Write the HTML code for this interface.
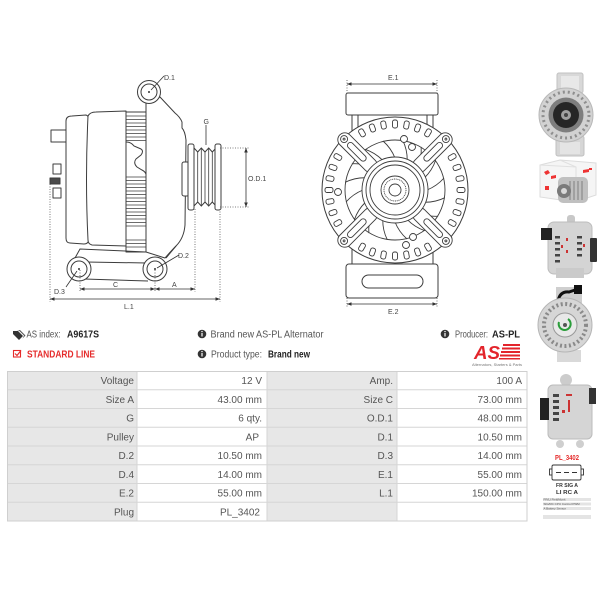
<!DOCTYPE html>
<html><head><meta charset="utf-8"><style>
html,body{margin:0;padding:0;background:#fff;}
svg{display:block;}
</style></head><body>
<svg width="600" height="600" viewBox="0 0 600 600" xmlns="http://www.w3.org/2000/svg" font-family="'Liberation Sans', Arial, sans-serif">
<defs>
<marker id="ar" viewBox="0 0 6 6" refX="6" refY="3" markerWidth="4.5" markerHeight="4.5" markerUnits="userSpaceOnUse" orient="auto-start-reverse"><path d="M0,0.6 L6,3 L0,5.4 Z" fill="#333"/></marker>
</defs>
<rect width="600" height="600" fill="#fff"/>

<!-- ============ LEFT DRAWING ============ -->
<g fill="#fff" stroke="#3c3c3c" stroke-width="1" stroke-linejoin="round">
  <!-- terminals -->
  <rect x="51" y="130" width="15" height="12"/>
  <rect x="53" y="164" width="8" height="10"/>
  <rect x="50" y="178" width="10" height="6" fill="#4a4a4a"/>
  <rect x="53" y="188" width="8" height="10"/>
  <!-- rear cap -->
  <path d="M66,121 Q66,116 72,116 L86,115 Q89,116 89,120 L89,240 Q88,244 84,244 L70,243 Q66,243 66,238 Z"/>
  <!-- middle body -->
  <path d="M88,116 Q90,112 96,112 L126,111 L126,246 L92,245 Q88,244 88,240 Q85,180 88,116 Z"/>
  <!-- front housing -->
  <path d="M146,103 L146,252 L165,258 Q172,250 176,246 Q184,238 185,225 L186,140 Q185,131 182,128 L182,122 Q180,117 175,113 L160,97 Z"/>
  <!-- fin stack -->
  <rect x="126" y="112" width="20" height="140"/>
</g>
<g stroke="#3c3c3c" stroke-width="0.8" fill="none">
  <path d="M126,116H146M126,119.5H146M126,123H146M126,126.5H146M126,130H146M126,133.5H146M126,137H146M126,140.5H146"/>
  <path d="M126,177H146M126,180.5H146M126,184H146M126,187.5H146M126,191H146M126,194.5H146M126,198H146M126,201.5H146M126,205H146M126,208.5H146M126,212H146M126,215.5H146M126,219H146M126,222.5H146M126,226H146"/>
  <path d="M126,240H146M126,243.5H146M126,247H146"/>
</g>
<rect x="126.6" y="142" width="18.8" height="33" fill="#fff"/>
<path d="M126,142 Q131,142 134,146 L141,149 Q144,151 141,155 L136,159 Q133,163 137,167 L142,170 Q146,172 146,175" fill="none" stroke="#3c3c3c" stroke-width="1"/>
<path d="M126,142 L126,175" stroke="#3c3c3c" stroke-width="1"/>

<!-- bracket -->
<g fill="none" stroke="#3c3c3c" stroke-width="1">
  <path d="M75,258 L80,249 L146,252"/>
  <path d="M86,262 L147,263"/>
  <path d="M84,279 L148,281"/>
  <path d="M176,246 L166,258"/>
  <path d="M146,103 L146,112"/>
</g>
<g fill="#fff" stroke="#3c3c3c" stroke-width="1">
  <circle cx="79" cy="269" r="12"/>
  <circle cx="79" cy="269" r="8"/>
  <circle cx="155" cy="269" r="12"/>
  <circle cx="155" cy="269" r="8"/>
  <circle cx="149" cy="92" r="11.5"/>
  <circle cx="149" cy="92" r="8"/>
</g>
<g fill="#333"><circle cx="79" cy="269" r="1"/><circle cx="155" cy="269" r="1"/><circle cx="149" cy="92" r="1"/></g>

<!-- pulley -->
<g fill="#fff" stroke="#3c3c3c" stroke-width="1">
  <rect x="182" y="162" width="7" height="34" rx="2"/>
  <rect x="188" y="144" width="6" height="66" rx="2"/>
  <path d="M194,148 L197.7,152 L201.3,148 L205,152 L208.7,148 L212.3,152 L216,148 L216,206 L212.3,202 L208.7,206 L205,202 L201.3,206 L197.7,202 L194,206 Z"/>
  <path d="M197.7,152V202M201.3,148V206M205,152V202M208.7,148V206M212.3,152V202" fill="none" stroke-width="0.8"/>
  <rect x="215" y="144" width="6" height="66" rx="2"/>
</g>

<!-- dims left -->
<g stroke="#555" stroke-width="0.8" stroke-dasharray="1 1.5" fill="none">
  <path d="M50,184V302M80,270V292M155,270V292M195,209V292M220,209V302M220,148H249M220,207H249"/>
</g>
<g stroke="#333" stroke-width="0.8" fill="none">
  <path d="M80,289H155" marker-start="url(#ar)" marker-end="url(#ar)"/>
  <path d="M155,289H195" marker-start="url(#ar)" marker-end="url(#ar)"/>
  <path d="M50,299H220" marker-start="url(#ar)" marker-end="url(#ar)"/>
  <path d="M246,148V207" marker-start="url(#ar)" marker-end="url(#ar)"/>
  <path d="M164,76L151,90"/>
  <path d="M206,125V145"/>
  <path d="M179,255L157,268"/>
  <path d="M66,287L77,271"/>
</g>
<g font-size="7" fill="#444">
  <text x="164" y="80">D.1</text>
  <text x="203.5" y="124">G</text>
  <text x="248" y="181">O.D.1</text>
  <text x="178" y="258">D.2</text>
  <text x="54" y="294">D.3</text>
  <text x="113" y="287">C</text>
  <text x="172" y="287">A</text>
  <text x="124" y="309">L.1</text>
</g>

<!-- ============ MIDDLE DRAWING ============ -->
<g fill="#fff" stroke="#3c3c3c" stroke-width="1">
  <rect x="352" y="108" width="81" height="30"/>
  <rect x="346" y="93" width="92" height="22" rx="2"/>
  <rect x="352" y="245" width="81" height="22"/>
  <rect x="346" y="264" width="92" height="34" rx="3"/>
  <rect x="362" y="275" width="61" height="13" rx="6.5"/>
  <path d="M358,115V128M427,115V128" fill="none"/>
  <circle cx="395" cy="190" r="73"/>
</g>
<g fill="#fff" stroke="#3c3c3c" stroke-width="0.9" transform="translate(395,190)">
  <g id="notch"><rect x="-2.5" y="-70" width="5" height="8" rx="2"/></g>
  <rect x="-2.5" y="-70" width="5" height="8" rx="2" transform="rotate(10)"/>
  <rect x="-2.5" y="-70" width="5" height="8" rx="2" transform="rotate(20)"/>
  <rect x="-2.5" y="-70" width="5" height="8" rx="2" transform="rotate(30)"/>
  <rect x="-2.5" y="-70" width="5" height="8" rx="2" transform="rotate(60)"/>
  <rect x="-2.5" y="-70" width="5" height="8" rx="2" transform="rotate(70)"/>
  <rect x="-2.5" y="-70" width="5" height="8" rx="2" transform="rotate(80)"/>
  <rect x="-2.5" y="-70" width="5" height="8" rx="2" transform="rotate(90)"/>
  <rect x="-2.5" y="-70" width="5" height="8" rx="2" transform="rotate(100)"/>
  <rect x="-2.5" y="-70" width="5" height="8" rx="2" transform="rotate(110)"/>
  <rect x="-2.5" y="-70" width="5" height="8" rx="2" transform="rotate(120)"/>
  <rect x="-2.5" y="-70" width="5" height="8" rx="2" transform="rotate(150)"/>
  <rect x="-2.5" y="-70" width="5" height="8" rx="2" transform="rotate(160)"/>
  <rect x="-2.5" y="-70" width="5" height="8" rx="2" transform="rotate(170)"/>
  <rect x="-2.5" y="-70" width="5" height="8" rx="2" transform="rotate(180)"/>
  <rect x="-2.5" y="-70" width="5" height="8" rx="2" transform="rotate(190)"/>
  <rect x="-2.5" y="-70" width="5" height="8" rx="2" transform="rotate(200)"/>
  <rect x="-2.5" y="-70" width="5" height="8" rx="2" transform="rotate(210)"/>
  <rect x="-2.5" y="-70" width="5" height="8" rx="2" transform="rotate(240)"/>
  <rect x="-2.5" y="-70" width="5" height="8" rx="2" transform="rotate(250)"/>
  <rect x="-2.5" y="-70" width="5" height="8" rx="2" transform="rotate(260)"/>
  <rect x="-2.5" y="-70" width="5" height="8" rx="2" transform="rotate(270)"/>
  <rect x="-2.5" y="-70" width="5" height="8" rx="2" transform="rotate(280)"/>
  <rect x="-2.5" y="-70" width="5" height="8" rx="2" transform="rotate(290)"/>
  <rect x="-2.5" y="-70" width="5" height="8" rx="2" transform="rotate(300)"/>
  <rect x="-2.5" y="-70" width="5" height="8" rx="2" transform="rotate(330)"/>
  <rect x="-2.5" y="-70" width="5" height="8" rx="2" transform="rotate(340)"/>
  <rect x="-2.5" y="-70" width="5" height="8" rx="2" transform="rotate(350)"/>
  <circle cx="0" cy="0" r="50"/>
  <g fill="none">
    <path d="M32,0 Q42,-4 49,-12"/>
    <path d="M32,0 Q42,-4 49,-12" transform="rotate(22.5)"/>
    <path d="M32,0 Q42,-4 49,-12" transform="rotate(45)"/>
    <path d="M32,0 Q42,-4 49,-12" transform="rotate(67.5)"/>
    <path d="M32,0 Q42,-4 49,-12" transform="rotate(90)"/>
    <path d="M32,0 Q42,-4 49,-12" transform="rotate(112.5)"/>
    <path d="M32,0 Q42,-4 49,-12" transform="rotate(135)"/>
    <path d="M32,0 Q42,-4 49,-12" transform="rotate(157.5)"/>
    <path d="M32,0 Q42,-4 49,-12" transform="rotate(180)"/>
    <path d="M32,0 Q42,-4 49,-12" transform="rotate(202.5)"/>
    <path d="M32,0 Q42,-4 49,-12" transform="rotate(225)"/>
    <path d="M32,0 Q42,-4 49,-12" transform="rotate(247.5)"/>
    <path d="M32,0 Q42,-4 49,-12" transform="rotate(270)"/>
    <path d="M32,0 Q42,-4 49,-12" transform="rotate(292.5)"/>
    <path d="M32,0 Q42,-4 49,-12" transform="rotate(315)"/>
    <path d="M32,0 Q42,-4 49,-12" transform="rotate(337.5)"/>
  </g>
  <g transform="rotate(45)"><rect x="28" y="-7" width="50" height="14" rx="7"/><rect x="42" y="-3" width="24" height="6" rx="3"/><circle cx="72" cy="0" r="3.5"/><circle cx="72" cy="0" r="1"/></g>
  <g transform="rotate(135)"><rect x="28" y="-7" width="50" height="14" rx="7"/><rect x="42" y="-3" width="24" height="6" rx="3"/><circle cx="72" cy="0" r="3.5"/><circle cx="72" cy="0" r="1"/></g>
  <g transform="rotate(225)"><rect x="28" y="-7" width="50" height="14" rx="7"/><rect x="42" y="-3" width="24" height="6" rx="3"/><circle cx="72" cy="0" r="3.5"/><circle cx="72" cy="0" r="1"/></g>
  <g transform="rotate(315)"><rect x="28" y="-7" width="50" height="14" rx="7"/><rect x="42" y="-3" width="24" height="6" rx="3"/><circle cx="72" cy="0" r="3.5"/><circle cx="72" cy="0" r="1"/></g>
  <circle cx="0" cy="0" r="33"/>
  <circle cx="0" cy="0" r="29"/>
  <circle cx="0" cy="0" r="25"/>
  <circle cx="0" cy="0" r="14"/>
  <circle cx="0" cy="0" r="11" stroke-dasharray="1 0.8"/>
  <circle cx="0" cy="0" r="6"/>
</g>
<g fill="#fff" stroke="#3c3c3c" stroke-width="0.9">
  <circle cx="404" cy="139" r="3.5"/><circle cx="412" cy="147" r="3.5"/>
  <circle cx="338" cy="192" r="3.5"/>
  <circle cx="406" cy="245" r="3.5"/><circle cx="413" cy="237" r="3.5"/>
</g>
<g stroke="#555" stroke-width="0.8" stroke-dasharray="1 1.5" fill="none">
  <path d="M347,80V93M437,80V93M347,298V308M437,298V308"/>
</g>
<g stroke="#333" stroke-width="0.8" fill="none">
  <path d="M347,84H437" marker-start="url(#ar)" marker-end="url(#ar)"/>
  <path d="M347,304H437" marker-start="url(#ar)" marker-end="url(#ar)"/>
</g>
<g font-size="7" fill="#444">
  <text x="388" y="80">E.1</text>
  <text x="388" y="314">E.2</text>
</g>

<!-- ============ INFO ROWS ============ -->
<g fill="#333">
  <polygon points="13,331 18,331 23,336 19,340 13,334"/>
  <polygon points="17,330 20,330 25.5,335.5 22.5,338.5 24,335.5 19,330.5" fill="#555"/>
  <circle cx="202" cy="334" r="4.3"/>
  <circle cx="202" cy="354" r="4.3"/>
  <circle cx="445" cy="334" r="4.3"/>
</g>
<g fill="#fff">
  <rect x="201.4" y="333" width="1.2" height="3.5"/><circle cx="202" cy="331.6" r="0.7"/>
  <rect x="201.4" y="353" width="1.2" height="3.5"/><circle cx="202" cy="351.6" r="0.7"/>
  <rect x="444.4" y="333" width="1.2" height="3.5"/><circle cx="445" cy="331.6" r="0.7"/>
</g>
<rect x="13.5" y="350.5" width="7" height="6.5" fill="none" stroke="#e52b2b" stroke-width="1.1"/>
<path d="M15,353.5 L17,355.5 L21,350.5" fill="none" stroke="#e52b2b" stroke-width="1.2"/>
<g font-size="10" fill="#555">
  <text x="26.5" y="337.5" textLength="34" lengthAdjust="spacingAndGlyphs">AS index:</text>
  <text x="67" y="337.5" textLength="32" lengthAdjust="spacingAndGlyphs" font-weight="bold" fill="#222">A9617S</text>
  <text x="210.5" y="337.5" textLength="113" lengthAdjust="spacingAndGlyphs">Brand new AS-PL Alternator</text>
  <text x="455" y="337.5" textLength="33" lengthAdjust="spacingAndGlyphs">Producer:</text>
  <text x="492" y="337.5" textLength="28" lengthAdjust="spacingAndGlyphs" font-weight="bold" fill="#222">AS-PL</text>
  <text x="27" y="357.5" textLength="68" lengthAdjust="spacingAndGlyphs" font-weight="bold" fill="#e52b2b">STANDARD LINE</text>
  <text x="211" y="357.5" textLength="51" lengthAdjust="spacingAndGlyphs">Product type:</text>
  <text x="268" y="357.5" textLength="42" lengthAdjust="spacingAndGlyphs" font-weight="bold" fill="#222">Brand new</text>
</g>
<!-- AS logo -->
<text x="474" y="359" font-size="18" font-weight="bold" font-style="italic" fill="#e3242b" textLength="26" lengthAdjust="spacingAndGlyphs">AS</text>
<g fill="#e3242b">
  <rect x="503" y="344" width="17" height="2"/>
  <rect x="502" y="347.5" width="18" height="2"/>
  <rect x="501" y="351" width="19" height="2"/>
  <rect x="500" y="354.5" width="20" height="2"/>
  <rect x="499" y="358" width="21" height="1.5"/>
</g>
<text x="472" y="366" font-size="3.5" fill="#777" textLength="50" lengthAdjust="spacingAndGlyphs">Alternators, Starters &amp; Parts</text>

<!-- ============ TABLE ============ -->
<g>
  <rect x="7" y="371" width="130" height="150" fill="#e7e7e7"/>
  <rect x="137" y="371" width="130" height="150" fill="#fff"/>
  <rect x="267" y="371" width="130" height="150" fill="#e7e7e7"/>
  <rect x="397" y="371" width="130" height="150" fill="#fff"/>
  <g stroke="#d6d6d6" stroke-width="1" fill="none">
    <path d="M7,389.75H527M7,408.5H527M7,427.25H527M7,446H527M7,464.75H527M7,483.5H527M7,502.25H527"/>
    <path d="M137,371V521M267,371V521M397,371V521"/>
    <rect x="7.5" y="371.5" width="519.5" height="149.5" stroke="#cfcfcf"/>
  </g>
</g>
<g font-size="10" fill="#555" text-anchor="end">
  <text x="134" y="384">Voltage</text><text x="262" y="384">12 V</text><text x="393" y="384">Amp.</text><text x="522" y="384">100 A</text>
  <text x="134" y="402.75">Size A</text><text x="262" y="402.75">43.00 mm</text><text x="393" y="402.75">Size C</text><text x="522" y="402.75">73.00 mm</text>
  <text x="134" y="421.5">G</text><text x="262" y="421.5">6 qty.</text><text x="393" y="421.5">O.D.1</text><text x="522" y="421.5">48.00 mm</text>
  <text x="134" y="440.25">Pulley</text><text x="259" y="440.25">AP</text><text x="393" y="440.25">D.1</text><text x="522" y="440.25">10.50 mm</text>
  <text x="134" y="459">D.2</text><text x="262" y="459">10.50 mm</text><text x="393" y="459">D.3</text><text x="522" y="459">14.00 mm</text>
  <text x="134" y="477.75">D.4</text><text x="262" y="477.75">14.00 mm</text><text x="393" y="477.75">E.1</text><text x="522" y="477.75">55.00 mm</text>
  <text x="134" y="496.5">E.2</text><text x="262" y="496.5">55.00 mm</text><text x="393" y="496.5">L.1</text><text x="522" y="496.5">150.00 mm</text>
  <text x="134" y="515.25">Plug</text><text x="260" y="515.25">PL_3402</text>
</g>

<!-- ============ RIGHT PHOTOS ============ -->
<!-- photo 1 -->
<g>
  <rect x="557" y="73" width="26" height="20" rx="2" fill="#d8d8d8" stroke="#c2c2c2"/>
  <rect x="561" y="76" width="18" height="14" fill="#e8e8e8"/>
  <rect x="556" y="136" width="28" height="20" rx="2" fill="#d6d6d6" stroke="#c0c0c0"/>
  <rect x="560" y="142" width="20" height="12" fill="#e4e4e4"/>
  <circle cx="566" cy="115" r="27" fill="#d2d2d2" stroke="#b8b8b8"/>
  <circle cx="566" cy="115" r="23" fill="none" stroke="#8f8f8f" stroke-width="3" stroke-dasharray="2 3"/>
  <circle cx="566" cy="115" r="17.5" fill="#7e7e7e"/>
  <circle cx="566" cy="115" r="13" fill="#262626"/>
  <circle cx="566" cy="115" r="5" fill="#a0a0a0"/>
  <circle cx="566" cy="115" r="2" fill="#444"/>
</g>
<!-- photo 2 box -->
<g>
  <polygon points="540,165 560,160 596,163 596,195 575,202 540,197" fill="#f5f5f5" stroke="#dcdcdc"/>
  <path d="M560,160 L576,167 L576,202 M540,165 L576,167" stroke="#e0e0e0" fill="none"/>
  <path d="M544,172 l4,-2 l2,3 l-4,2z M551,176 l5,-1 l0,3 l-5,1z M545,186 l4,0 l0,4 l-4,0z M583,170 l6,-1 l0,3 l-6,1z M589,168 l3,0 l0,2 l-3,0z" fill="#e33"/>
  <rect x="558" y="177" width="30" height="26" rx="5" fill="#c0c0c0"/>
  <path d="M570,181V200M574,181V200M578,181V200M582,181V200" stroke="#8a8a8a" stroke-width="1.2"/>
  <circle cx="564" cy="191" r="7" fill="#7a7a7a"/>
  <circle cx="564" cy="191" r="3" fill="#d8d8d8"/>
</g>
<!-- photo 3 side -->
<g>
  <rect x="567" y="215" width="8" height="9" rx="3" fill="#c8c8c8"/>
  <rect x="548" y="222" width="44" height="52" rx="6" fill="#d4d4d4" stroke="#bdbdbd"/>
  <rect x="541" y="228" width="11" height="12" fill="#222"/>
  <rect x="590" y="238" width="7" height="24" rx="1" fill="#333"/>
  <g fill="#444">
    <rect x="555" y="236" width="5" height="2.5"/><rect x="555" y="242" width="5" height="2.5"/><rect x="555" y="248" width="5" height="2.5"/><rect x="555" y="254" width="5" height="2.5"/><rect x="555" y="260" width="5" height="2.5"/>
    <rect x="577" y="236" width="5" height="2.5"/><rect x="577" y="242" width="5" height="2.5"/><rect x="577" y="248" width="5" height="2.5"/><rect x="577" y="254" width="5" height="2.5"/>
  </g>
  <g fill="#c33"><rect x="566" y="238" width="2" height="3"/><rect x="566" y="250" width="2" height="3"/><rect x="561" y="245" width="2" height="3"/><rect x="583" y="244" width="2" height="3"/></g>
  <rect x="556" y="268" width="28" height="10" fill="#cacaca"/>
</g>
<!-- photo 4 front -->
<g>
  <rect x="556" y="287" width="26" height="16" fill="#cfcfcf"/>
  <path d="M558,301 Q560,291 569,292 L578,289" stroke="#111" stroke-width="3" fill="none"/>
  <rect x="574" y="285" width="8" height="9" fill="#111"/>
  <rect x="557" y="350" width="24" height="12" fill="#d9d9d9"/>
  <circle cx="565" cy="325" r="27" fill="#d6d6d6" stroke="#b5b5b5"/>
  <circle cx="565" cy="325" r="21" fill="none" stroke="#8a8a8a" stroke-width="4" stroke-dasharray="2 2.5"/>
  <circle cx="565" cy="325" r="12" fill="#e8e8e8" stroke="#999"/>
  <path d="M559,322 A6,6 0 1 0 568,319" stroke="#2a9d3a" stroke-width="2" fill="none"/>
  <circle cx="565" cy="325" r="2" fill="#555"/>
</g>
<!-- photo 5 side -->
<g>
  <circle cx="566" cy="380" r="6" fill="#cccccc"/>
  <rect x="548" y="385" width="44" height="54" rx="5" fill="#d5d5d5" stroke="#bbb"/>
  <rect x="540" y="398" width="9" height="22" fill="#222"/>
  <rect x="589" y="388" width="7" height="16" fill="#333"/>
  <g fill="#444">
    <rect x="553" y="394" width="6" height="3"/><rect x="553" y="400" width="6" height="3"/><rect x="553" y="406" width="6" height="3"/><rect x="553" y="412" width="6" height="3"/><rect x="553" y="418" width="6" height="3"/>
  </g>
  <g fill="#c33"><rect x="566" y="394" width="6" height="2"/><rect x="568" y="400" width="2" height="12"/><rect x="562" y="410" width="3" height="3"/></g>
  <circle cx="560" cy="444" r="4" fill="#cfcfcf"/>
  <circle cx="580" cy="444" r="4" fill="#cfcfcf"/>
</g>
<!-- plug -->
<text x="567" y="460" font-size="7" font-weight="bold" fill="#e52b2b" text-anchor="middle" textLength="24" lengthAdjust="spacingAndGlyphs">PL_3402</text>
<g fill="#fff" stroke="#333" stroke-width="0.9">
  <rect x="549.5" y="469" width="3" height="6"/>
  <rect x="580.5" y="469" width="3" height="6"/>
  <rect x="552" y="465" width="29" height="15" rx="1.5"/>
</g>
<path d="M556,472.5H561M564,472.5H569M572,472.5H577" stroke="#333" stroke-width="1"/>
<g font-size="5.5" font-weight="bold" fill="#333" text-anchor="middle">
  <text x="567" y="487" textLength="22" lengthAdjust="spacingAndGlyphs">FR SIG A</text>
  <text x="567" y="494" textLength="22" lengthAdjust="spacingAndGlyphs">LI RC A</text>
</g>
<g fill="#e4e4e4">
  <rect x="543" y="498" width="48" height="3"/>
  <rect x="543" y="502.5" width="48" height="3"/>
  <rect x="543" y="507" width="48" height="3"/>
  <rect x="543" y="515" width="48" height="4"/>
</g>
<g font-size="3" fill="#555">
  <text x="543.5" y="500.5">FR/LI  FieldMonit</text>
  <text x="543.5" y="505">SIG/RC  CPU Control PWM</text>
  <text x="543.5" y="509.5">A  Battery Sensor</text>
</g>
</svg>
</body></html>
